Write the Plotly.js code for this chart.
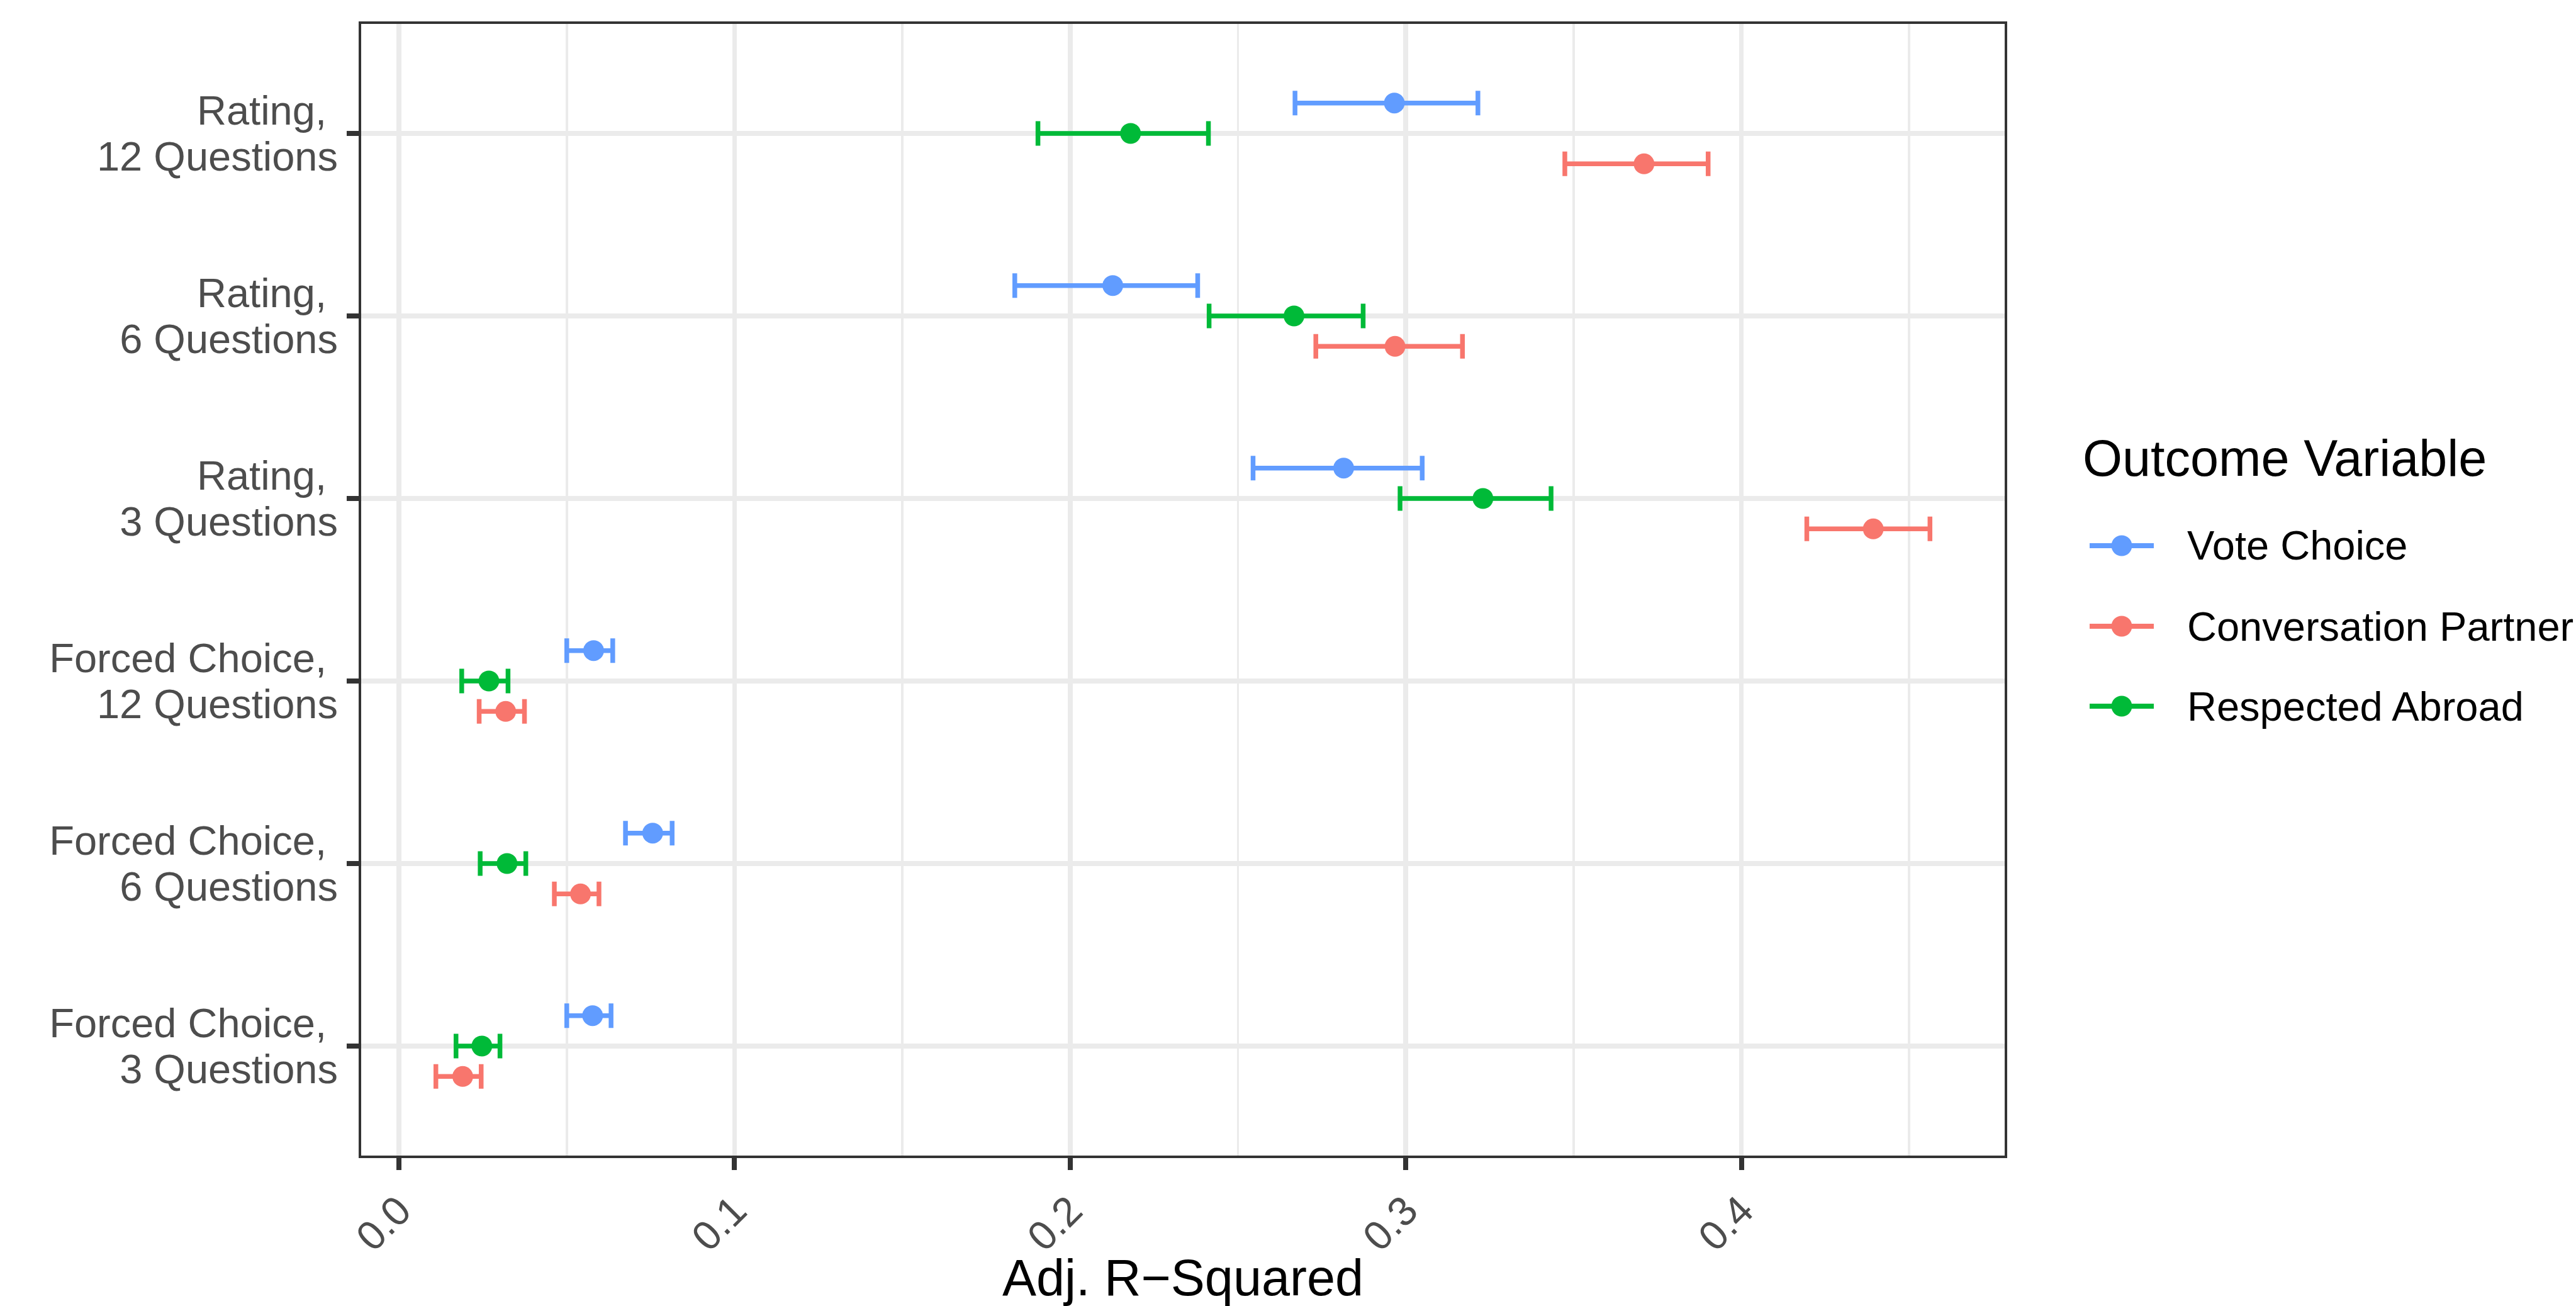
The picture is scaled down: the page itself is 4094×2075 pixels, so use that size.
<!DOCTYPE html>
<html><head><meta charset="utf-8">
<script src="https://cdn.plot.ly/plotly-3.0.1.min.js"></script>
<style>html,body{margin:0;padding:0;background:#fff;overflow:hidden}</style>
</head><body><div id="chart" style="width:4094px;height:2075px"></div>
<script>
// Categories, bottom to top; each tick label is two lines (line 1 ends with a space, as in the original)
const categories = ["Forced Choice, 3 Questions", "Forced Choice, 6 Questions", "Forced Choice, 12 Questions",
                    "Rating, 3 Questions", "Rating, 6 Questions", "Rating, 12 Questions"];
const tickLine1 = ["Forced Choice,\u00A0", "Forced Choice,\u00A0", "Forced Choice,\u00A0", "Rating,\u00A0", "Rating,\u00A0", "Rating,\u00A0"];
const tickLine2 = ["3 Questions", "6 Questions", "12 Questions", "3 Questions", "6 Questions", "12 Questions"];
const xTickValues = [0.0, 0.1, 0.2, 0.3, 0.4];

const seriesNames = ["Vote Choice", "Conversation Partner", "Respected Abroad"];
const seriesColors = ["#619CFF", "#F8766D", "#00BA38"];
const dodgeOffsets = [1/6, -1/6, 0];

// Adjusted R-squared estimates with lower / upper interval bounds
const voteEst   = [0.0577, 0.0756, 0.0580, 0.2815, 0.2127, 0.2966];
const voteLow   = [0.0500, 0.0675, 0.0500, 0.2545, 0.1835, 0.2670];
const voteHigh  = [0.0632, 0.0814, 0.0637, 0.3049, 0.2380, 0.3215];

const convEst   = [0.0190, 0.0541, 0.0318, 0.4393, 0.2968, 0.3710];
const convLow   = [0.0110, 0.0463, 0.0239, 0.4195, 0.2732, 0.3474];
const convHigh  = [0.0245, 0.0596, 0.0374, 0.4562, 0.3169, 0.3901];

const abroadEst  = [0.0247, 0.0322, 0.0268, 0.3230, 0.2667, 0.2180];
const abroadLow  = [0.0170, 0.0242, 0.0187, 0.2983, 0.2414, 0.1904];
const abroadHigh = [0.0301, 0.0378, 0.0325, 0.3433, 0.2873, 0.2412];

const estimates = [voteEst, convEst, abroadEst];
const lows = [voteLow, convLow, abroadLow];
const highs = [voteHigh, convHigh, abroadHigh];

const W = 4094, H = 2075;
const M = {l: 574, r: 908, t: 38, b: 239};
const plotW = W - M.l - M.r, plotH = H - M.t - M.b;
const px2x = p => (p - M.l) / plotW;
const px2y = p => (H - M.b - p) / plotH;

const FONT = "Liberation Sans, Arial, Helvetica, sans-serif";
const yRange = [0.4, 6.6];
// half the line spacing of the two-line labels, in axis units (ggplot lineheight 0.9)
const halfLine = 36.5 * (yRange[1] - yRange[0]) / plotH;

const traces = seriesNames.map((name, s) => ({
  type: "scatter",
  mode: "markers",
  name: name,
  x: estimates[s],
  y: categories.map((c, i) => i + 1 + dodgeOffsets[s]),
  marker: {color: seriesColors[s], size: 33, line: {width: 0}},
  error_x: {
    type: "data", symmetric: false,
    array: estimates[s].map((v, i) => highs[s][i] - v),
    arrayminus: estimates[s].map((v, i) => v - lows[s][i]),
    color: seriesColors[s], thickness: 7.5, width: 19.5
  },
  showlegend: false,
  hovertemplate: name + ": %{x:.3f}<extra></extra>"
}));

// x range with ggplot-like 5% expansion
const allLow = Math.min(...lows.flat()), allHigh = Math.max(...highs.flat());
const pad = 0.05 * (allHigh - allLow);

// y tick labels: line 1 above and line 2 below each category position
const yLabelVals = [], yLabelText = [];
categories.forEach((c, i) => {
  yLabelVals.push(i + 1 + halfLine); yLabelText.push(tickLine1[i]);
  yLabelVals.push(i + 1 - halfLine); yLabelText.push(tickLine2[i]);
});

// Legend (drawn to match ggplot key glyphs)
const shapes = [], annotations = [];
annotations.push({
  xref: "paper", yref: "paper", x: px2x(3308), y: px2y(728), xanchor: "left", yanchor: "middle",
  text: "Outcome Variable", showarrow: false, font: {family: FONT, size: 81, color: "#000000"}
});
const legendRows = [867, 995, 1122];
seriesNames.forEach((name, s) => {
  const yc = px2y(legendRows[s]);
  shapes.push({type: "line", xref: "paper", yref: "paper", x0: px2x(3321), x1: px2x(3423), y0: yc, y1: yc,
               line: {color: seriesColors[s], width: 8}});
  shapes.push({type: "circle", xref: "paper", yref: "paper", xsizemode: "pixel", ysizemode: "pixel",
               xanchor: px2x(3372), yanchor: yc, x0: -16.5, x1: 16.5, y0: -16.5, y1: 16.5,
               fillcolor: seriesColors[s], line: {width: 0}});
  annotations.push({
    xref: "paper", yref: "paper", x: px2x(3474), y: yc, xanchor: "left", yanchor: "middle",
    text: name, showarrow: false, font: {family: FONT, size: 65, color: "#000000"}
  });
});

const layout = {
  width: W, height: H,
  margin: M,
  paper_bgcolor: "#FFFFFF", plot_bgcolor: "#FFFFFF",
  font: {family: FONT, color: "#000000"},
  showlegend: false,
  xaxis: {
    range: [allLow - pad, allHigh + pad],
    tickvals: xTickValues, tickformat: ".1f",
    tickangle: -45,
    tickfont: {family: FONT, size: 65, color: "#4D4D4D"},
    ticks: "outside", ticklen: 19, tickwidth: 8, tickcolor: "#333333",
    showgrid: true, gridcolor: "#EBEBEB", gridwidth: 7.5,
    minor: {dtick: 0.05, tick0: 0, showgrid: true, gridcolor: "#EBEBEB", gridwidth: 3.7, ticks: ""},
    zeroline: false,
    showline: true, linecolor: "#333333", linewidth: 4, mirror: true,
    title: {text: "Adj. R\u2212Squared", font: {family: FONT, size: 81, color: "#000000"}, standoff: 20},
    automargin: false
  },
  yaxis: {
    range: yRange,
    tickmode: "array",
    tickvals: yLabelVals,
    ticktext: yLabelText,
    tickfont: {family: FONT, size: 65, color: "#4D4D4D"},
    ticks: "", showgrid: false,
    ticklabelstandoff: 20,
    minor: {
      tickmode: "array", tickvals: categories.map((c, i) => i + 1),
      ticks: "outside", ticklen: 19, tickwidth: 8, tickcolor: "#333333",
      showgrid: true, gridcolor: "#EBEBEB", gridwidth: 7.5
    },
    zeroline: false,
    showline: true, linecolor: "#333333", linewidth: 4, mirror: true,
    automargin: false
  },
  shapes: shapes,
  annotations: annotations
};

Plotly.newPlot("chart", traces, layout, {staticPlot: true, displayModeBar: false});
</script>
</body></html>
